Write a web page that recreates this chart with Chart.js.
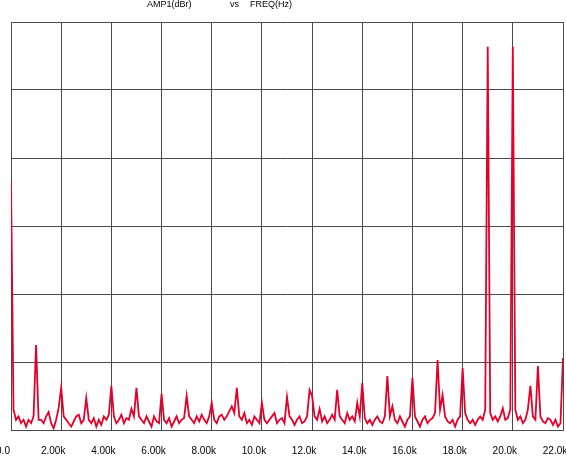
<!DOCTYPE html>
<html>
<head>
<meta charset="utf-8">
<title>AMP1(dBr) vs FREQ(Hz)</title>
<script src="https://cdn.jsdelivr.net/npm/chart.js@4/dist/chart.umd.min.js"></script>
<style>
	html, body { margin: 0; padding: 0; background: #fff; }
	canvas { display: block; }
</style>
</head>
<body>
<canvas id="fftChart" width="566" height="456"></canvas>
<script>
// FFT bin spacing (Hz) and amplitude of each bin, 0 Hz .. 22 kHz
const binHz = 100;
const ampDbr = [
	-47, -114, -117, -116, -118, -117, -119, -117, -118, -116,
	-95, -117, -117, -118, -116, -114.7, -118, -119.5, -117, -113.5,
	-107.6, -116, -117, -118, -119, -117.5, -116, -115.5, -118, -117,
	-110.6, -117, -118, -116.5, -119, -117, -118.5, -116, -117, -115.5,
	-107, -116, -118, -117, -115.5, -118, -116.5, -117, -113.8, -116,
	-107.6, -116, -117, -118, -116, -117.5, -119, -116, -117.5, -118,
	-109.4, -117, -118, -116.5, -119, -117.5, -116, -118, -117, -116.5,
	-110, -116, -117, -118, -116, -117.5, -115.5, -117, -118, -116,
	-112, -117, -118, -116, -115.5, -117, -116, -114.5, -113, -115,
	-107.6, -116, -117, -115, -118, -117, -118.5, -116, -117, -118,
	-112, -117, -118, -117, -116, -115, -118, -117, -116.5, -118,
	-110.3, -116, -117, -118.5, -117, -116, -118, -117.5, -116, -108.2,
	-110, -116, -117, -113.8, -117.5, -116, -118, -117, -115.5, -117,
	-108.2, -116, -117, -118, -115, -117, -116, -117.5, -112, -116,
	-106.2, -116.5, -118, -117, -118.5, -117, -116, -117.5, -118, -116,
	-104.1, -116, -113, -117, -118, -116, -117.5, -119, -117, -116,
	-104.7, -116, -117.5, -119, -117, -116, -118, -117, -116.5, -115,
	-99.4, -114, -109.7, -116, -117.5, -118, -117, -119, -117, -116,
	-101.8, -115, -117, -118, -117, -118.5, -117, -116, -117, -114,
	-7.3, -115, -117, -116, -117.5, -116, -113.6, -117, -116.5, -114,
	-7.3, -114, -117, -116, -118, -117, -114, -107, -116, -117,
	-101.2, -116, -117.5, -118, -116.5, -117, -118.5, -117, -119, -118,
	-98.8
];

const xTickLabels = ['0.0', '2.00k', '4.00k', '6.00k', '8.00k', '10.0k', '12.0k', '14.0k', '16.0k', '18.0k', '20.0k', '22.0k'];
const titleParts = ['AMP1(dBr)', 'vs', 'FREQ(Hz)'];

const points = ampDbr.map((v, i) => ({ x: i * binHz, y: v }));

const gridColor = '#4a4a4a';

// header text above the plot
const headerPlugin = {
	id: 'header',
	afterDraw(chart) {
		const ctx = chart.ctx;
		ctx.save();
		ctx.fillStyle = '#000';
		ctx.font = '9px "Liberation Sans", Arial, sans-serif';
		ctx.textBaseline = 'middle';
		ctx.textAlign = 'left';
		const xs = [147, 230, 250];
		titleParts.forEach((t, i) => ctx.fillText(t, xs[i], 5));
		ctx.restore();
	}
};

new Chart(document.getElementById('fftChart'), {
	type: 'line',
	data: {
		datasets: [{
			data: points,
			borderColor: '#e4002b',
			borderWidth: 1.8,
			pointRadius: 0,
			tension: 0,
			fill: false
		}]
	},
	options: {
		responsive: false,
		animation: false,
		layout: { padding: { left: 11, right: 3, top: 22, bottom: 0 } },
		plugins: {
			legend: { display: false },
			tooltip: { enabled: false }
		},
		scales: {
			x: {
				type: 'linear',
				min: 0,
				max: 22000,
				ticks: {
					stepSize: 2000,
					padding: 15,
					labelOffset: -8,
					maxRotation: 0,
					autoSkip: false,
					color: '#000',
					font: { family: '"Liberation Sans", Arial, sans-serif', size: 10 },
					callback: (value, index) => xTickLabels[index]
				},
				grid: { color: gridColor, lineWidth: 1, drawTicks: false },
				border: { color: gridColor, width: 1 },
				afterFit(scale) {
					scale.height = 26;
					scale.paddingLeft = 0;
					scale.paddingRight = 0;
				}
			},
			y: {
				min: -120,
				max: 0,
				ticks: { stepSize: 20, display: false },
				grid: { color: gridColor, lineWidth: 1, drawTicks: false },
				border: { color: gridColor, width: 1 },
				afterFit(scale) {
					scale.width = 0;
				}
			}
		}
	},
	plugins: [headerPlugin]
});
</script>
</body>
</html>
